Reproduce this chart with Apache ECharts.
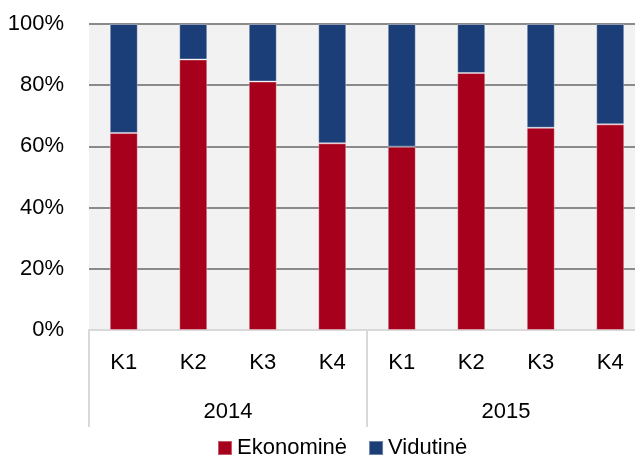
<!DOCTYPE html>
<html>
<head>
<meta charset="utf-8">
<script src="https://cdn.jsdelivr.net/npm/echarts@6/dist/echarts.min.js"></script>
<style>
    html, body {margin: 0; padding: 0; background: #fff;}
    #main {width: 635px; height: 459px;}
</style>
</head>
<body>
<div id="main"></div>
<script>
// duomenys
var quarters = ['K1', 'K2', 'K3', 'K4', 'K1', 'K2', 'K3', 'K4'];
var years = ['2014', '2015'];
var ekonomine = [64.4, 88.4, 81.2, 61.0, 59.9, 84.0, 66.1, 67.2];
var vidutine = [35.6, 11.6, 18.8, 39.0, 40.1, 16.0, 33.9, 32.8];

var font = "'Liberation Sans Narrow', 'Arial Narrow', 'Liberation Sans', sans-serif";
var fs = 22;

var myChart = echarts.init(document.getElementById('main'));

var option = {
    animation: false,
    textStyle: {fontFamily: font},
    grid: {
        left: 89, width: 556, top: 24, height: 306,
        outerBoundsMode: 'none',
        show: true, backgroundColor: '#f2f2f2', borderWidth: 0
    },
    legend: {
        data: ['Ekonominė', 'Vidutinė'],
        left: 212, top: 432,
        icon: 'rect', itemWidth: 14, itemHeight: 14, itemGap: 21,
        textStyle: {fontFamily: font, fontSize: fs, color: '#000'}
    },
    xAxis: [{
        type: 'category',
        data: quarters,
        axisLine: {lineStyle: {color: '#d9d9d9', width: 2}},
        axisTick: {show: false},
        axisLabel: {fontFamily: font, fontSize: fs, color: '#000', margin: 22}
    }, {
        type: 'category',
        data: years,
        position: 'bottom',
        axisLine: {show: false},
        axisTick: {show: true, length: 97, lineStyle: {color: '#d9d9d9', width: 2}},
        axisLabel: {fontFamily: font, fontSize: fs, color: '#000', margin: 71}
    }],
    yAxis: {
        type: 'value',
        min: 0, max: 100, interval: 20,
        axisLabel: {formatter: '{value}%', fontFamily: font, fontSize: fs, color: '#000', margin: 25},
        splitLine: {lineStyle: {color: '#8a8a8a', width: 2}},
        axisLine: {show: false},
        axisTick: {show: false}
    },
    series: [{
        name: 'Ekonominė',
        type: 'bar',
        stack: 'viso',
        barWidth: 28,
        itemStyle: {color: '#a6001c', borderColor: 'rgba(255,255,255,0.35)', borderWidth: 1},
        data: ekonomine
    }, {
        name: 'Vidutinė',
        type: 'bar',
        stack: 'viso',
        barWidth: 28,
        itemStyle: {color: '#1b3d78', borderColor: 'rgba(255,255,255,0.35)', borderWidth: 1},
        data: vidutine
    }]
};

myChart.setOption(option);
</script>
</body>
</html>
